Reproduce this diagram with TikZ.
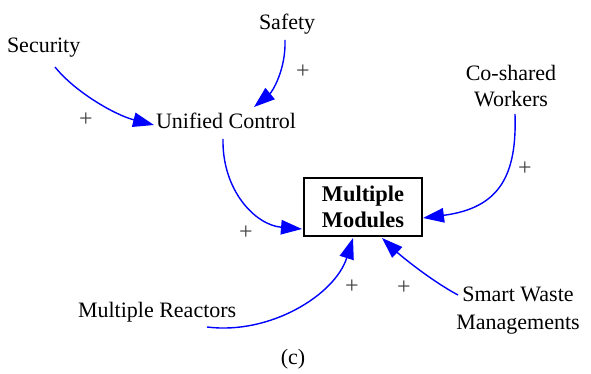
\documentclass[tikz,border=0pt]{standalone}
\usepackage{fontspec}
\setmainfont{Liberation Serif}
\usetikzlibrary{arrows.meta}

\tikzset{
  label/.style={inner sep=0pt, outer sep=0pt, font=\fontsize{22}{26}\selectfont},
  stock/.style={draw=black, line width=2.5pt, inner sep=0pt, outer sep=0pt,
    minimum width=118pt, minimum height=58pt, align=center,
    font=\fontsize{22.4}{26.5}\selectfont\bfseries},
  link/.style={draw=blue, line width=1.4pt,
    -{Triangle[length=21pt,width=14.5pt]}},
  sign/.style={inner sep=0pt, text=black!75, font=\fontsize{24}{28}\selectfont},
}

\begin{document}
\begin{tikzpicture}[x=1pt, y=-1pt]
\useasboundingbox (0,0) rectangle (591,374);

% variables
\node[label, anchor=base west] (sec) at (7,53) {Security};
\node[label, anchor=base west] (saf) at (259,30) {Safety};
\node[label, anchor=base west] (uc)  at (156,129) {Unified Control};
\node[label, align=center, font=\fontsize{22}{26}\selectfont] (cw) at (511,86) {Co-shared\\Workers};
\node[stock] (mm) at (363,207) {Multiple\\Modules};
\node[label, anchor=base west] (mr) at (78,317) {Multiple Reactors};
\node[label, align=center, font=\fontsize{22}{28}\selectfont] (sw) at (518,311) {Smart Waste\\Managements};
\node[label, anchor=base] (cap) at (293,364) {(c)};

% causal links
\draw[link] ([shift={(48,14)}]sec.base west) .. controls (75,92) and (115,115) .. ([shift={(-2,-4)}]uc.base west);
\draw[link] ([shift={(26,10)}]saf.base west) .. controls (286,70) and (272,92) .. ([shift={(98,-22)}]uc.base west);
\draw[link] ([shift={(67,10)}]uc.base west) .. controls (222,190) and (255,225) .. ([shift={(-2,22)}]mm.west);
\draw[link] ([shift={(4,28)}]cw.center) .. controls (517,175) and (500,208) .. ([shift={(1,11)}]mm.east);
\draw[link] ([shift={(129,10)}]mr.base west) .. controls (270,335) and (335,295) .. ([shift={(-10,2)}]mm.south);
\draw[link] ([shift={(-60,-16)}]sw.center) .. controls (430,280) and (400,255) .. ([shift={(19,2)}]mm.south);

% polarities
\node[sign] (p1) at (86,120) {+};
\node[sign] (p2) at (303,72) {+};
\node[sign] (p3) at (246,233) {+};
\node[sign] (p4) at (525,169) {+};
\node[sign] (p5) at (352,287) {+};
\node[sign] (p6) at (404,288) {+};
\end{tikzpicture}
\end{document}
